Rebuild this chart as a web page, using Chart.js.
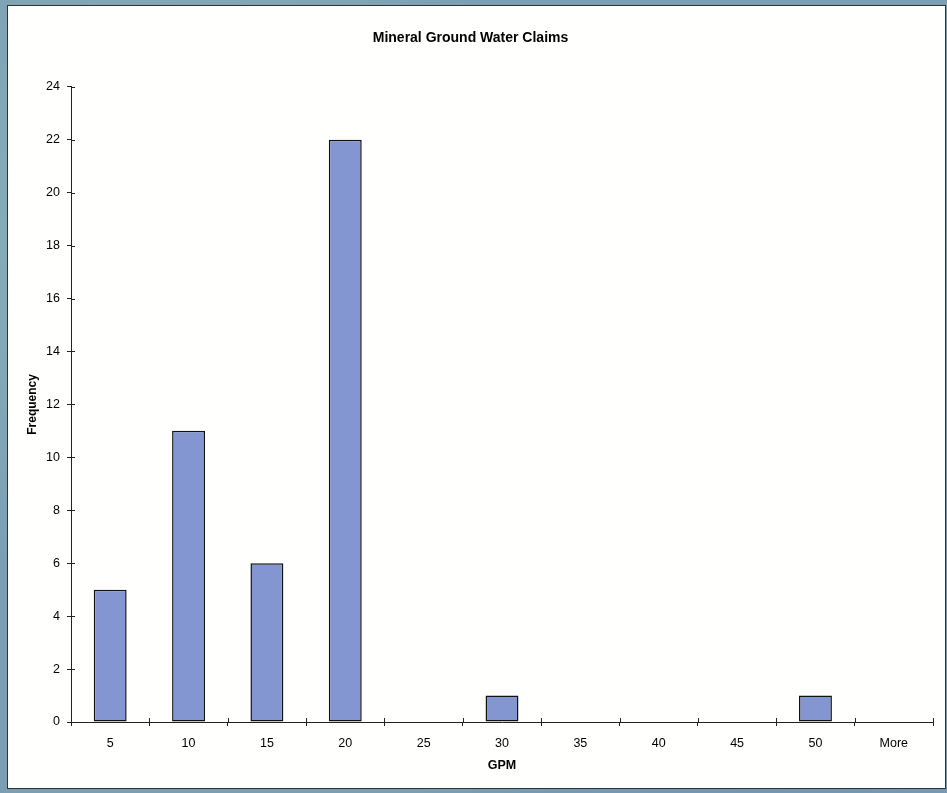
<!DOCTYPE html>
<html>
<head>
<meta charset="utf-8">
<script src="https://cdn.jsdelivr.net/npm/chart.js@4.4.0/dist/chart.umd.min.js"></script>
<style>
    html, body { margin: 0; padding: 0; }
    body {
        width: 947px;
        height: 793px;
        background: #7a9fb4;
        background-image: radial-gradient(circle at 20% 30%, #8db6bb 0, transparent 40%),
                          radial-gradient(circle at 80% 70%, #6a8db4 0, transparent 45%);
        position: relative;
        overflow: hidden;
    }
    #frame {
        position: absolute;
        left: 7px;
        top: 5px;
        width: 937px;
        height: 782px;
        border: 1px solid #333;
        background: #fffffd;
    }
    canvas { display: block; }
</style>
</head>
<body>
<div id="frame">
    <canvas id="myChart" width="937" height="782"></canvas>
</div>
<script>
// Histogram bins (GPM) and counts
var gpmBins = ['5', '10', '15', '20', '25', '30', '35', '40', '45', '50', 'More'];
var frequency = [5, 11, 6, 22, 0, 1, 0, 0, 0, 1, 0];
var yMin = 0;
var yMax = 24;
var yStep = 2;

// tick marks in the original cross the axis, chart.js only draws the outer half
const innerTicks = {
    id: 'innerTicks',
    afterDraw: function (chart) {
        var ctx = chart.ctx;
        var area = chart.chartArea;
        var x = chart.scales.x;
        var y = chart.scales.y;
        ctx.save();
        ctx.strokeStyle = '#222';
        ctx.lineWidth = 1;
        ctx.beginPath();
        for (var i = 0; i < y.ticks.length; i++) {
            var py = Math.round(y.getPixelForTick(i)) + 0.5;
            ctx.moveTo(area.left, py);
            ctx.lineTo(area.left + 4, py);
        }
        for (var j = 0; j < x.ticks.length - 1; j++) {
            var px = Math.round((x.getPixelForTick(j) + x.getPixelForTick(j + 1)) / 2) + 0.5;
            ctx.moveTo(px, area.bottom);
            ctx.lineTo(px, area.bottom - 4);
        }
        ctx.moveTo(Math.round(area.right) + 0.5, area.bottom);
        ctx.lineTo(Math.round(area.right) + 0.5, area.bottom - 4);
        ctx.stroke();
        ctx.restore();
    }
};

const data = {
    labels: gpmBins,
    datasets: [{
        label: 'Frequency',
        data: frequency,
        backgroundColor: '#8496d1',
        borderColor: '#111',
        borderWidth: 1.5,
        borderSkipped: false,
        barPercentage: 0.42,
        categoryPercentage: 1.0
    }]
};

const config = {
    type: 'bar',
    data: data,
    options: {
        responsive: false,
        animation: false,
        devicePixelRatio: 1,
        layout: {
            padding: { left: 0, right: 12, top: 0, bottom: 0 }
        },
        plugins: {
            legend: { display: false },
            tooltip: { enabled: false },
            title: {
                display: true,
                text: 'Mineral Ground Water Claims',
                color: '#000',
                font: { family: 'Liberation Sans, Arial, sans-serif', size: 14, weight: 'bold' },
                padding: { top: 24, bottom: 40 }
            }
        },
        scales: {
            x: {
                offset: true,
                grid: {
                    display: true,
                    offset: true,
                    drawOnChartArea: false,
                    drawTicks: true,
                    tickLength: 4,
                    color: '#222'
                },
                border: { display: true, color: '#222', width: 1 },
                ticks: {
                    color: '#000',
                    padding: 10,
                    font: { family: 'Liberation Sans, Arial, sans-serif', size: 12.5 }
                },
                title: {
                    display: true,
                    text: 'GPM',
                    color: '#000',
                    font: { family: 'Liberation Sans, Arial, sans-serif', size: 12.5, weight: 'bold' },
                    padding: { top: 0, bottom: 15 }
                },
                afterFit: function (scale) { scale.height = 66; }
            },
            y: {
                min: yMin,
                max: yMax,
                grid: {
                    display: true,
                    drawOnChartArea: false,
                    drawTicks: true,
                    tickLength: 4,
                    color: '#222'
                },
                border: { display: true, color: '#222', width: 1 },
                ticks: {
                    stepSize: yStep,
                    color: '#000',
                    padding: 7,
                    font: { family: 'Liberation Sans, Arial, sans-serif', size: 12.5 }
                },
                title: {
                    display: true,
                    text: 'Frequency',
                    color: '#000',
                    font: { family: 'Liberation Sans, Arial, sans-serif', size: 12, weight: 'bold' },
                    padding: { top: 17, bottom: 0 }
                },
                afterFit: function (scale) { scale.width = 63; }
            }
        }
    },
    plugins: [innerTicks]
};

var myChart = new Chart(
    document.getElementById('myChart'),
    config
);
</script>
</body>
</html>
